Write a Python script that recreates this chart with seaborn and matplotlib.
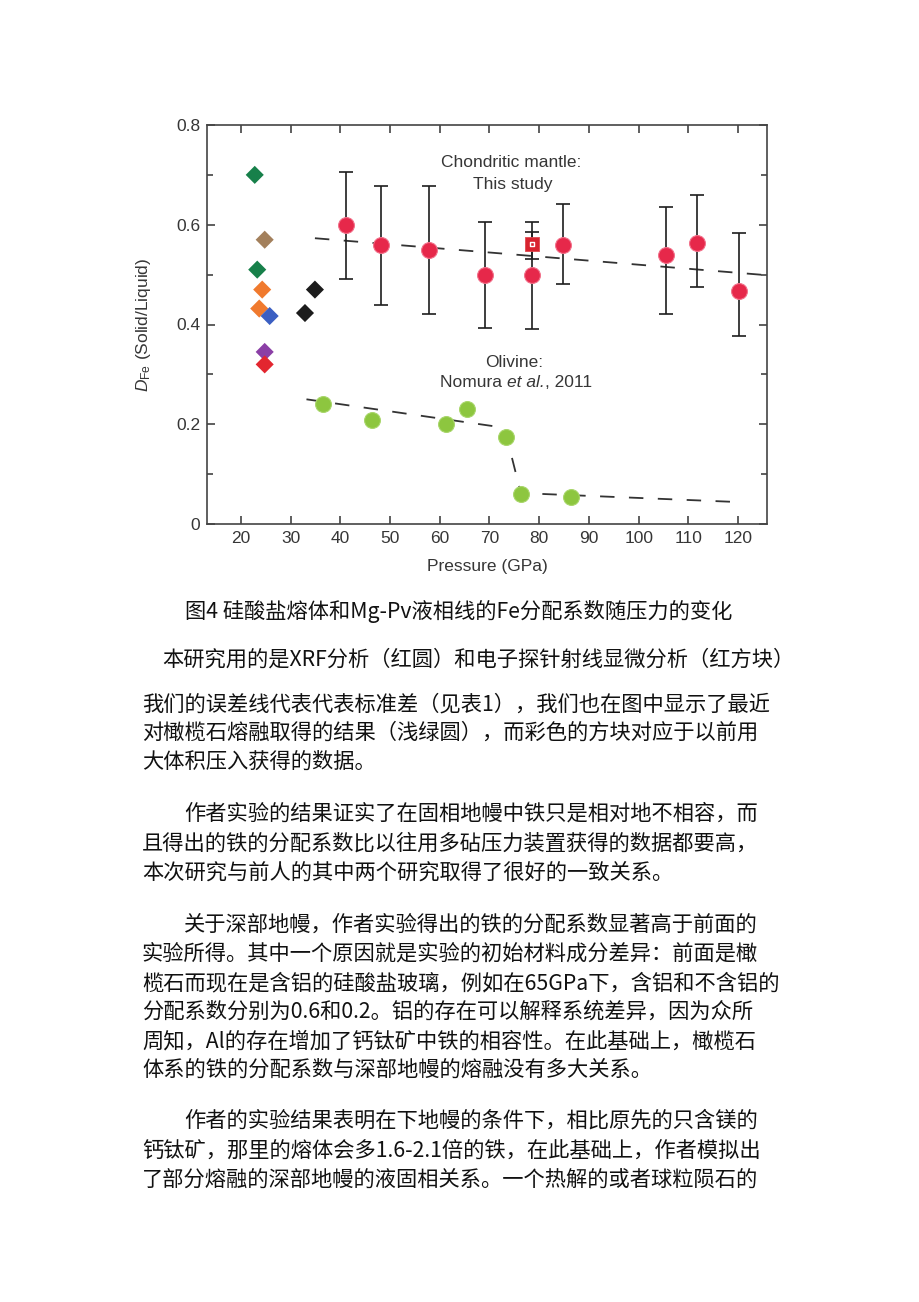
import matplotlib
matplotlib.use("Agg")
import matplotlib.pyplot as plt
import matplotlib.transforms as mtransforms
import seaborn as sns
import numpy as np
import pandas as pd

# ---------------- data ----------------
# previous multi-anvil data (diamonds)
prev_P = [22.8, 24.8, 23.3, 24.3, 23.7, 25.8, 24.8, 24.8, 32.9, 34.9]
prev_D = [0.700, 0.570, 0.510, 0.470, 0.432, 0.417, 0.345, 0.320, 0.423, 0.470]
prev_grp = ["A", "B", "A", "C", "C", "D", "E", "F", "G", "G"]
prev_colors = {"A": "#17804a", "B": "#a3805c", "C": "#f07a2e", "D": "#3b5fc2",
               "E": "#8b3fa6", "F": "#e3262f", "G": "#1c1c1c"}

# this study, XRF (red circles) with error bar bounds
xrf_P = [41.1, 48.2, 57.8, 69.1, 78.6, 84.7, 105.4, 111.8, 120.2]
xrf_D = [0.600, 0.560, 0.550, 0.500, 0.500, 0.560, 0.539, 0.563, 0.467]
xrf_lo = [0.491, 0.439, 0.421, 0.392, 0.391, 0.481, 0.421, 0.476, 0.377]
xrf_hi = [0.705, 0.678, 0.678, 0.605, 0.606, 0.641, 0.636, 0.659, 0.583]

# this study, microprobe (red square)
epma_P = [78.6]
epma_D = [0.561]
epma_lo = [0.531]
epma_hi = [0.586]

# olivine, Nomura et al. 2011 (green circles)
ol_P = [36.6, 46.4, 61.2, 65.4, 73.3, 76.3, 86.3]
ol_D = [0.241, 0.208, 0.201, 0.231, 0.174, 0.060, 0.055]

# dashed trend lines
fit_P = [34.9, 125.6]
fit_D = [0.573, 0.499]
olfit_P = [33.2, 73.0, 76.3, 120.0]
olfit_D = [0.250, 0.193, 0.062, 0.044]

x_ticks = [20, 30, 40, 50, 60, 70, 80, 90, 100, 110, 120]
y_ticks = [0, 0.2, 0.4, 0.6, 0.8]
y_ticklabels = ["0", "0.2", "0.4", "0.6", "0.8"]

caption = "图4 硅酸盐熔体和Mg-Pv液相线的Fe分配系数随压力的变化"
body_lines = [
    "本研究用的是XRF分析（红圆）和电子探针射线显微分析（红方块）",
    "我们的误差线代表代表标准差（见表1），我们也在图中显示了最近",
    "对橄榄石熔融取得的结果（浅绿圆），而彩色的方块对应于以前用",
    "大体积压入获得的数据。",
    "作者实验的结果证实了在固相地幔中铁只是相对地不相容，而",
    "且得出的铁的分配系数比以往用多砧压力装置获得的数据都要高，",
    "本次研究与前人的其中两个研究取得了很好的一致关系。",
    "关于深部地幔，作者实验得出的铁的分配系数显著高于前面的",
    "实验所得。其中一个原因就是实验的初始材料成分差异：前面是橄",
    "榄石而现在是含铝的硅酸盐玻璃，例如在65GPa下，含铝和不含铝的",
    "分配系数分别为0.6和0.2。铝的存在可以解释系统差异，因为众所",
    "周知，Al的存在增加了钙钛矿中铁的相容性。在此基础上，橄榄石",
    "体系的铁的分配系数与深部地幔的熔融没有多大关系。",
    "作者的实验结果表明在下地幔的条件下，相比原先的只含镁的",
    "钙钛矿，那里的熔体会多1.6-2.1倍的铁，在此基础上，作者模拟出",
    "了部分熔融的深部地幔的液固相关系。一个热解的或者球粒陨石的",
]
# layout (pixel) of the text lines
body_x = [162, 142, 142, 142, 184, 142, 142, 184, 142, 142, 142, 142, 142, 184, 142, 142]
body_y = [660, 704, 733, 762, 814, 844, 873, 925, 954, 983, 1012, 1041, 1070, 1121, 1151, 1180]

# ---------------- style ----------------
sns.set_theme(style="ticks")
plt.rcParams["font.family"] = ["Liberation Sans", "DejaVu Sans"]
plt.rcParams["mathtext.fontset"] = "custom"
plt.rcParams["mathtext.rm"] = "Liberation Sans"
plt.rcParams["mathtext.it"] = "Liberation Sans:italic"
plt.rcParams["mathtext.bf"] = "Liberation Sans:bold"

W, H = 920, 1302
fig = plt.figure(figsize=(W / 100, H / 100), dpi=100)
fig.patch.set_facecolor("white")
ax = fig.add_axes([207 / W, 1 - 524 / H, 560 / W, 399 / H])
ax.set_facecolor("white")

txt = "#363636"

# trend lines
sns.lineplot(x=fit_P, y=fit_D, ax=ax, color="#333333", linewidth=1.3,
             linestyle=(0, (8, 8)), zorder=1, sort=False)
sns.lineplot(x=olfit_P, y=olfit_D, ax=ax, color="#333333", linewidth=1.3,
             linestyle=(0, (8, 8)), zorder=1, sort=False)

# error bars
ax.errorbar(xrf_P, xrf_D,
            yerr=[np.array(xrf_D) - np.array(xrf_lo), np.array(xrf_hi) - np.array(xrf_D)],
            fmt="none", ecolor="#1e1e1e", elinewidth=1.2, capsize=5, capthick=1.2, zorder=2)
ax.errorbar(epma_P, epma_D,
            yerr=[np.array(epma_D) - np.array(epma_lo), np.array(epma_hi) - np.array(epma_D)],
            fmt="none", ecolor="#1e1e1e", elinewidth=1.2, capsize=5, capthick=1.2, zorder=2)

# previous data diamonds
prev_df = pd.DataFrame({"P": prev_P, "D": prev_D, "g": prev_grp})
sns.scatterplot(data=prev_df, x="P", y="D", hue="g", palette=prev_colors, marker="D",
                s=85, linewidth=0, legend=False, ax=ax, zorder=3)

# olivine
sns.scatterplot(x=ol_P, y=ol_D, color="#8dc63f", marker="o", s=130,
                edgecolor="#a8d66a", linewidth=0.8, ax=ax, zorder=3)

# XRF red circles
sns.scatterplot(x=xrf_P, y=xrf_D, color="#e6284a", marker="o", s=130,
                edgecolor="#f2708a", linewidth=0.8, ax=ax, zorder=3)

# microprobe red square
sns.scatterplot(x=epma_P, y=epma_D, color="#d8232f", marker="s", s=105,
                edgecolor="#e04a50", linewidth=0.6, ax=ax, zorder=4)
sns.scatterplot(x=epma_P, y=epma_D, facecolor="none", marker="s", s=10,
                edgecolor="white", linewidth=1.0, ax=ax, zorder=5)

# axes
ax.set_xlim(13.2, 125.8)
ax.set_ylim(0, 0.8)
ax.set_xticks(x_ticks)
ax.set_xticklabels([str(v) for v in x_ticks])
ax.set_yticks(y_ticks)
ax.set_yticklabels(y_ticklabels)
ax.set_yticks([0.1, 0.3, 0.5, 0.7], minor=True)
ax.tick_params(axis="both", which="major", direction="in", length=6, width=1.1,
               color="#333333", labelsize=12.5, labelcolor=txt, pad=5,
               top=True, right=True)
ax.tick_params(axis="y", which="minor", direction="in", length=4.5, width=1.1,
               color="#333333", left=True, right=True)
for sp in ax.spines.values():
    sp.set_color("#444444")
    sp.set_linewidth(1.2)
    sp.set_visible(True)

ax.set_xlabel("Pressure (GPa)", fontsize=12.5, color=txt)
ax.set_ylabel(r"$D_{\mathrm{Fe}}$ (Solid/Liquid)", fontsize=12.5, color=txt)
ax.xaxis.set_label_coords(0.5, -0.088)
ax.yaxis.set_label_coords(-0.097, 0.5)

# annotations
ax.text(74.4, 0.724, "Chondritic mantle:", ha="center", va="center", fontsize=12.5, color=txt)
ax.text(74.6, 0.680, "This study", ha="center", va="center", fontsize=12.5, color=txt)
ax.text(75.0, 0.323, "Olivine:", ha="center", va="center", fontsize=12.5, color=txt)

# "Nomura et al., 2011" with italic "et al." built from three pieces
pieces = [("Nomura ", "normal"), ("et al.", "italic"), (", 2011", "normal")]
renderer = fig.canvas.get_renderer()
tmp = []
widths = []
for s, st in pieces:
    t = fig.text(0, 0, s, fontsize=12.5, fontstyle=st)
    widths.append(t.get_window_extent(renderer).width)
    tmp.append(t)
for t in tmp:
    t.remove()
total = sum(widths)
cx, cy = ax.transData.transform((75.4, 0.283))
xpos = cx - total / 2
for (s, st), w in zip(pieces, widths):
    fig.text(xpos / W, cy / H, s, ha="left", va="center", fontsize=12.5,
             fontstyle=st, color=txt)
    xpos += w

# caption and body text
cjk = ["Noto Sans CJK SC", "DejaVu Sans"]
fig.text(185 / W, 1 - 611 / H, caption, ha="left", va="center", fontsize=15.3,
         family=cjk, color="#111111")
for s, x, y in zip(body_lines, body_x, body_y):
    fig.text(x / W, 1 - y / H, s, ha="left", va="center", fontsize=15.3,
             family=cjk, color="#111111")

fig.savefig("out.png", dpi=100, facecolor="white")
